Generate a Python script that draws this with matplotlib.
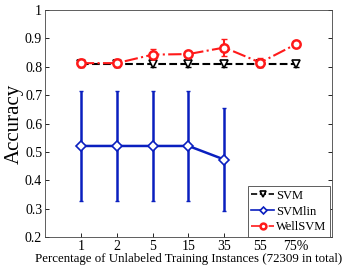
import matplotlib
matplotlib.use("Agg")
import matplotlib.pyplot as plt
import numpy as np

plt.rcParams['font.family'] = ['Liberation Serif', 'DejaVu Serif']

labels = ['1', '2', '5', '15', '35', '55', '75%']
x = np.arange(1, 8)

svm = [0.810, 0.810, 0.810, 0.810, 0.810, 0.810, 0.810]
svm_err = [0.010, 0.010, 0.010, 0.010, 0.012, 0.010, 0.012]

svmlin = [0.521, 0.521, 0.521, 0.521, 0.473]
svmlin_err = [0.193, 0.193, 0.193, 0.193, 0.182]

wellsvm = [0.813, 0.813, 0.843, 0.845, 0.868, 0.815, 0.880]
wellsvm_err = [0.015, 0.015, 0.020, 0.008, 0.030, 0.015, 0.005]

fig = plt.figure(figsize=(3.46, 2.66), dpi=100)
ax = fig.add_axes([0.130, 0.109, 0.8295, 0.853])

blue = '#0a1fbf'
red = '#ff1a1a'

# error bars first (no legend entries), then lines + markers
ax.errorbar(x, svm, yerr=svm_err, fmt='none', ecolor='black', capsize=2, elinewidth=1.5)
ax.errorbar(x[:5], svmlin, yerr=svmlin_err, fmt='none', ecolor=blue, capsize=1.5, elinewidth=1.8)
ax.errorbar(x, wellsvm, yerr=wellsvm_err, fmt='none', ecolor=red, capsize=2, elinewidth=1.5)

ax.plot(x, svm, color='black', linestyle='--', linewidth=1.5, marker='v', markersize=6,
        markerfacecolor='white', markeredgewidth=1.2, label='SVM')
ax.plot(x[:5], svmlin, color=blue, linestyle='-', linewidth=1.8, marker='D', markersize=5,
        markerfacecolor='white', markeredgewidth=1.2, label='SVMlin')
ax.plot(x, wellsvm, color=red, linestyle='-.', linewidth=1.5, marker='o', markersize=6,
        markerfacecolor='white', markeredgewidth=1.8, label='WellSVM')

ax.set_xlim(0, 8)
ax.set_ylim(0.2, 1.0)
ax.set_xticks(x)
ax.set_xticklabels(labels, fontsize=10)
ax.set_yticks(np.arange(0.2, 1.01, 0.1))
ax.set_yticklabels(['0.2', '0.3', '0.4', '0.5', '0.6', '0.7', '0.8', '0.9', '1'], fontsize=10)
ax.tick_params(direction='in', length=3, right=True, top=False, width=0.6, pad=2)
for s in ax.spines.values():
    s.set_linewidth(0.6)
    s.set_color('#444444')

ax.set_xlabel('Percentage of Unlabeled Training Instances (72309 in total)', fontsize=9.3, labelpad=0)
ax.set_ylabel('Accuracy', fontsize=15, labelpad=1)

leg = ax.legend(loc='lower right', bbox_to_anchor=(0.994, 0.0), fontsize=9, handlelength=1.8,
                handletextpad=0.2, borderpad=0.3, labelspacing=0.3, fancybox=False, framealpha=1,
                edgecolor='#444444', borderaxespad=0.0, markerscale=0.7)
leg.get_frame().set_linewidth(0.6)
for h in leg.legend_handles:
    h.set_linewidth(1.2)

fig.savefig('out.png', dpi=100)
